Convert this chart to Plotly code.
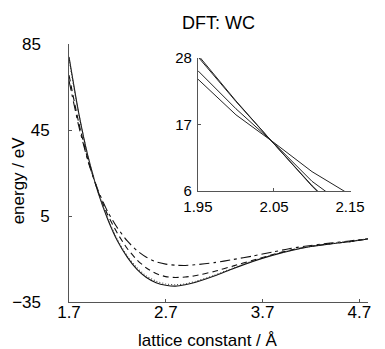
import plotly.graph_objects as go

# Lattice constants (Å) sampled for the full energy curves
lattice = [1.7, 1.8, 1.9, 2.0, 2.1, 2.2, 2.3, 2.4, 2.5, 2.6, 2.7, 2.8, 2.9,
           3.0, 3.2, 3.4, 3.6, 3.8, 4.0, 4.2, 4.4, 4.6, 4.79]

# Energies (eV) for the four functionals
e_solid = [79.0, 53.0, 32.0, 16.0, 3.5, -6.5, -14.0, -19.7, -23.6, -26.0, -27.2, -27.6, -27.0,
           -25.9, -22.9, -19.4, -16.1, -13.3, -11.0, -9.2, -8.0, -6.9, -5.7]
e_dotted = [78.0, 52.5, 32.0, 16.2, 3.8, -6.0, -13.4, -19.0, -22.9, -25.3, -26.6, -27.0, -26.6,
            -25.5, -22.6, -19.1, -15.9, -13.1, -10.9, -9.1, -7.9, -6.8, -5.6]
e_dash = [70.5, 48.5, 30.5, 16.5, 5.5, -3.0, -10.0, -15.3, -19.2, -21.8, -23.2, -23.6, -23.4,
          -22.8, -20.8, -18.2, -15.6, -13.0, -10.7, -9.1, -7.9, -6.9, -5.7]
e_dashdot = [68.0, 47.0, 30.0, 17.0, 7.0, -0.5, -6.5, -11.0, -14.2, -16.3, -17.4, -17.9, -18.0,
             -17.7, -16.7, -15.2, -13.6, -11.8, -10.0, -8.7, -7.6, -6.6, -5.6]

# Close-up around the crossing point
lattice_zoom = [1.95, 2.00, 2.05, 2.10, 2.15]
z_solid = [28.5, 20.9, 13.8, 6.8, 0.5]
z_dotted = [28.2, 20.8, 13.8, 6.9, 0.8]
z_dash = [25.9, 19.6, 13.9, 7.6, 3.0]
z_dashdot = [24.5, 18.6, 14.0, 9.2, 5.4]

main_ticks_x = [1.7, 2.7, 3.7, 4.7]
main_ticks_y_inner = [5, 45]
main_ticks_y_ends = [-35, 85]
zoom_ticks_x = [1.95, 2.05, 2.15]
zoom_ticks_y = [6, 17, 28]

FONT = "Liberation Sans, Arial, Helvetica, sans-serif"
INK = "#111111"

fig = go.Figure()

main_styles = [
    (e_solid, dict(color=INK, width=1.1, dash="solid"), "y"),
    (e_dotted, dict(color="#444444", width=1.1, dash="1px,2px"), "y3"),
    (e_dash, dict(color=INK, width=1.1, dash="6px,4px"), "y"),
    (e_dashdot, dict(color=INK, width=1.1, dash="10px,4px,3px,4px"), "y"),
]
for vals, line, yax in main_styles:
    fig.add_trace(go.Scatter(x=lattice, y=vals, mode="lines", line=dict(shape="spline", smoothing=0.6, **line),
                             xaxis="x", yaxis=yax, showlegend=False, hoverinfo="skip"))

for vals in (z_solid, z_dotted, z_dash, z_dashdot):
    fig.add_trace(go.Scatter(x=lattice_zoom, y=vals, mode="lines", line=dict(color="#222222", width=1),
                             xaxis="x2", yaxis="y2", showlegend=False, hoverinfo="skip"))

tick_font = dict(family=FONT, size=17, color="black")
inset_font = dict(family=FONT, size=15, color="black")
axis_common = dict(showgrid=False, zeroline=False, showline=True, linecolor="#555555", linewidth=1,
                   ticks="inside", ticklen=3, tickcolor="#555555", mirror=False)

fig.update_layout(
    width=385, height=349,
    margin=dict(l=69, r=3, t=44, b=47),
    paper_bgcolor="white", plot_bgcolor="white",
    title=dict(text="DFT: WC", font=dict(family=FONT, size=18, color="black"),
               x=0.5, xref="paper", xanchor="center", y=1 - 23 / 349, yref="container", yanchor="middle"),
    xaxis=dict(range=[1.7, 4.79], tickvals=main_ticks_x, ticktext=[f"{v:.1f}" for v in main_ticks_x],
               domain=[0, 1], anchor="y", ticklabelstandoff=-5, tickfont=tick_font, **axis_common),
    yaxis=dict(range=[-35, 85], tickvals=main_ticks_y_inner, ticktext=[str(v) for v in main_ticks_y_inner],
               domain=[0, 1], anchor="x", ticklabelstandoff=15, tickfont=tick_font, **axis_common),
    yaxis3=dict(range=[-35, 85], tickvals=main_ticks_y_ends,
                ticktext=["\u221235", "85"], overlaying="y", anchor="x", side="left",
                showgrid=False, zeroline=False, showline=False, ticks="", tickfont=tick_font,
                ticklabelstandoff=27),
    xaxis2=dict(range=[1.95, 2.151], tickvals=zoom_ticks_x, ticktext=[f"{v:.2f}" for v in zoom_ticks_x],
                domain=[0.4313, 0.9425], anchor="y2", ticklabelstandoff=2, tickfont=inset_font, **axis_common),
    yaxis2=dict(range=[6, 28], tickvals=zoom_ticks_y, ticktext=[str(v) for v in zoom_ticks_y],
                domain=[0.4302, 0.9457], anchor="x2", ticklabelstandoff=2,
                tickfont=inset_font, **axis_common),
    annotations=[
        dict(text="lattice constant / Å", xref="paper", yref="paper", x=(215 - 69) / 313, y=-(340 - 302) / 258,
             xanchor="center", yanchor="middle", showarrow=False, font=dict(family=FONT, size=17, color="black")),
        dict(text="energy / eV", xref="paper", yref="paper", x=-(69 - 16) / 313, y=(302 - 180) / 258,
             xanchor="center", yanchor="middle", textangle=-90, showarrow=False,
             font=dict(family=FONT, size=17, color="black")),
    ],
)

fig.write_html("out.html")
